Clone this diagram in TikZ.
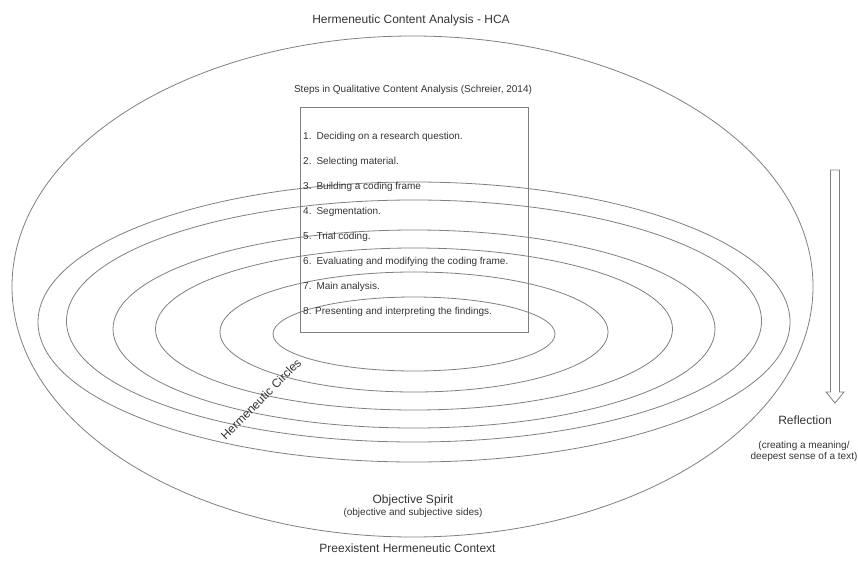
\documentclass[tikz,border=0pt]{standalone}
\usepackage{fontspec}
\setmainfont{Liberation Sans}
\definecolor{txtgray}{HTML}{333333}
\definecolor{linegray}{HTML}{7F7F7F}
\newcommand{\fsz}[1]{\fontsize{#1}{#1}\selectfont}

\begin{document}
\begin{tikzpicture}[
  x = 1pt, y = -1pt,
  every node/.style = {text=txtgray, font=\fsz{12}},
  ring/.style = {linegray, line width=0.8pt},
  small/.style = {font=\fsz{10}},
  stepitem/.style = {small, anchor=west, inner sep=0pt}
]
\useasboundingbox (0,0) rectangle (858,572);
\def\cx{414}

% contexto exterior
\draw[ring] (412.5,286.5) ellipse [x radius=400.5pt, y radius=250.5pt];

% circulos hermeneuticos
\foreach \cy/\rx/\ry in {322/376/140, 321/347.5/121, 329/301/99,
                         329/258.5/81, 332/194/60, 334/141/37}
  \draw[ring] (\cx,\cy) ellipse [x radius=\rx pt, y radius=\ry pt];

\node (title) at (411,20) {Hermeneutic Content Analysis - HCA};
\node[small] (stepstitle) at (413,90) {Steps in Qualitative Content Analysis (Schreier, 2014)};

% caixa dos passos
\node[draw=linegray, line width=0.8pt, minimum width=228pt, minimum height=225pt,
      inner sep=0pt] (stepsbox) at (414,219.5) {};
\foreach \txt [count=\i] in {
    1.\hspace{5pt}Deciding on a research question.,
    2.\hspace{5pt}Selecting material.,
    3.\hspace{5pt}Building a coding frame,
    4.\hspace{5pt}Segmentation.,
    5.\hspace{5pt}Trial coding.,
    6.\hspace{5pt}Evaluating and modifying the coding frame.,
    7.\hspace{5pt}Main analysis.,
    8. Presenting and interpreting the findings.}
  \node[stepitem] (step\i) at (303,{137+(\i-1)*25}) {\txt};

\node[rotate=45] (circles) at (261,399) {Hermeneutic Circles};

% seta de reflexao
\draw[linegray, line width=0.8pt, line join=miter]
  (830.5,170) -- (839.5,170) -- (839.5,392) -- (844,392) -- (835,403)
  -- (826,392) -- (830.5,392) -- cycle;
\node (reflection) at (805,420) {Reflection};
\node[small, align=center] (reflsub) at (804,451)
  {(creating a meaning/\\[1pt]deepest sense of a text)};

\node (spirit) at (413,500) {Objective Spirit};
\node[small] (spiritsub) at (413,513) {(objective and subjective sides)};

\node (context) at (407.5,548) {Preexistent Hermeneutic Context};
\end{tikzpicture}
\end{document}
